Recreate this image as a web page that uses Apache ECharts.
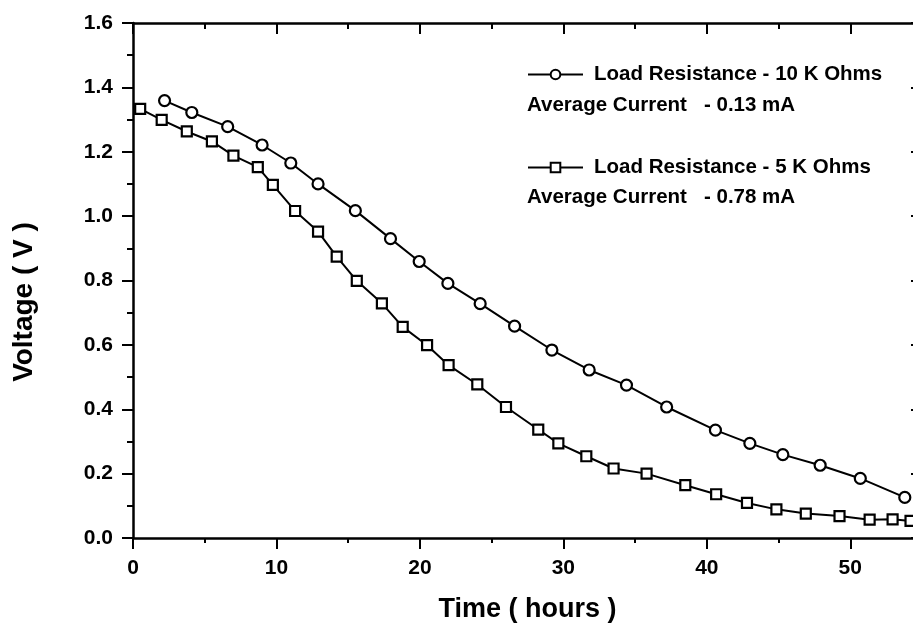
<!DOCTYPE html>
<html>
<head>
<meta charset="utf-8">
<script src="https://cdn.jsdelivr.net/npm/echarts@6/dist/echarts.min.js"></script>
<style>
html,body{margin:0;padding:0;background:#fff;}
#chart{width:913px;height:625px;}
</style>
</head>
<body>
<div id="chart"></div>
<script>
// ---- data ----
var timeCircle = [2.2, 4.1, 6.6, 9.0, 11.0, 12.9, 15.5, 17.95, 19.95, 21.95, 24.2, 26.6, 29.2, 31.8, 34.4, 37.2, 40.6, 43.0, 45.3, 47.9, 50.7, 53.8];
var voltCircle = [1.359, 1.322, 1.278, 1.221, 1.165, 1.100, 1.017, 0.930, 0.859, 0.791, 0.728, 0.658, 0.584, 0.522, 0.475, 0.407, 0.335, 0.294, 0.259, 0.226, 0.185, 0.126];
var timeSquare = [0.5, 2.0, 3.75, 5.5, 7.0, 8.7, 9.75, 11.3, 12.9, 14.2, 15.6, 17.35, 18.8, 20.5, 22.0, 24.0, 26.0, 28.25, 29.65, 31.6, 33.5, 35.8, 38.5, 40.65, 42.8, 44.85, 46.9, 49.25, 51.35, 52.95, 54.2];
var voltSquare = [1.333, 1.299, 1.263, 1.232, 1.188, 1.152, 1.097, 1.016, 0.952, 0.874, 0.799, 0.729, 0.656, 0.599, 0.537, 0.477, 0.407, 0.337, 0.294, 0.254, 0.216, 0.200, 0.164, 0.136, 0.109, 0.089, 0.076, 0.068, 0.057, 0.058, 0.053];
var seriesNames = ['Load Resistance - 10 K Ohms', 'Load Resistance - 5 K Ohms'];
var currentNotes = ['Average Current   - 0.13 mA', 'Average Current   - 0.78 mA'];
var xTitle = 'Time ( hours )';
var yTitle = 'Voltage ( V )';
var xMin = 0, xMax = 55, xStep = 10;
var yMin = 0, yMax = 1.6, yStep = 0.2;

function pairs(xs, ys) { return xs.map(function (x, i) { return [x, ys[i]]; }); }

var FONT = '"Liberation Sans", Arial, Helvetica, sans-serif';
var axisLine = { show: true, onZero: false, lineStyle: { color: '#000', width: 2.5 } };

var chart = echarts.init(document.getElementById('chart'), null, { renderer: 'canvas' });
chart.setOption({
  animation: false,
  backgroundColor: '#fff',
  grid: { left: 133, top: 23, width: 789, height: 515, containLabel: false, outerBoundsMode: 'none' },
  legend: {
    orient: 'vertical',
    left: 522,
    top: 59,
    itemWidth: 55,
    itemHeight: 12,
    itemGap: 72,
    selectedMode: false,
    textStyle: { color: '#000', fontFamily: FONT, fontWeight: 'bold', fontSize: 20.5, padding: [0, 0, 0, 6] },
    data: seriesNames
  },
  graphic: [
    { type: 'text', left: 527, top: 95, style: { text: currentNotes[0], font: 'bold 20.5px ' + FONT, fill: '#000' } },
    { type: 'text', left: 527, top: 187, style: { text: currentNotes[1], font: 'bold 20.5px ' + FONT, fill: '#000' } },
    { type: 'text', x: 24, y: 302, rotation: Math.PI / 2,
      style: { text: yTitle, font: 'bold 28px ' + FONT, fill: '#000', align: 'center', verticalAlign: 'middle' } }
  ],
  xAxis: [
    {
      type: 'value', position: 'bottom', min: xMin, max: xMax, interval: xStep,
      name: xTitle, nameLocation: 'middle', nameGap: 58,
      nameTextStyle: { color: '#000', fontFamily: FONT, fontWeight: 'bold', fontSize: 27 },
      axisLine: axisLine,
      axisTick: { show: true, inside: false, length: 11, lineStyle: { color: '#000', width: 2 } },
      minorTick: { show: true, splitNumber: 2, length: 5, lineStyle: { color: '#000', width: 2 } },
      axisLabel: { color: '#000', fontFamily: FONT, fontWeight: 'bold', fontSize: 21, margin: 20,
        showMaxLabel: false,
        formatter: function (v) { return (v % 10 === 0) ? String(v) : ''; } },
      splitLine: { show: false }
    },
    {
      type: 'value', position: 'top', min: xMin, max: xMax, interval: xStep,
      axisLine: axisLine,
      axisTick: { show: true, inside: true, length: 11, lineStyle: { color: '#000', width: 2 } },
      minorTick: { show: true, splitNumber: 2, length: 6, lineStyle: { color: '#000', width: 2 } },
      axisLabel: { show: false },
      splitLine: { show: false }
    }
  ],
  yAxis: [
    {
      type: 'value', position: 'left', min: yMin, max: yMax, interval: yStep,
      axisLine: axisLine,
      axisTick: { show: true, inside: false, length: 11, lineStyle: { color: '#000', width: 2 } },
      minorTick: { show: true, splitNumber: 2, length: 6, lineStyle: { color: '#000', width: 2 } },
      axisLabel: { color: '#000', fontFamily: FONT, fontWeight: 'bold', fontSize: 21, margin: 20,
        formatter: function (v) { return v.toFixed(1); } },
      splitLine: { show: false }
    },
    {
      type: 'value', position: 'right', min: yMin, max: yMax, interval: yStep,
      axisLine: axisLine,
      axisTick: { show: true, inside: true, length: 11, lineStyle: { color: '#000', width: 2 } },
      minorTick: { show: true, splitNumber: 2, length: 6, lineStyle: { color: '#000', width: 2 } },
      axisLabel: { show: false },
      splitLine: { show: false }
    }
  ],
  series: [
    {
      name: seriesNames[0], type: 'line', xAxisIndex: 0, yAxisIndex: 0,
      data: pairs(timeCircle, voltCircle),
      symbol: 'circle', symbolSize: 11, showAllSymbol: true,
      lineStyle: { color: '#000', width: 2 },
      itemStyle: { color: '#fff', borderColor: '#000', borderWidth: 2.2 },
      color: '#000'
    },
    {
      name: seriesNames[1], type: 'line', xAxisIndex: 0, yAxisIndex: 0,
      data: pairs(timeSquare, voltSquare),
      symbol: 'rect', symbolSize: 10, showAllSymbol: true,
      lineStyle: { color: '#000', width: 2 },
      itemStyle: { color: '#fff', borderColor: '#000', borderWidth: 2.2 },
      color: '#000'
    }
  ]
});
</script>
</body>
</html>
